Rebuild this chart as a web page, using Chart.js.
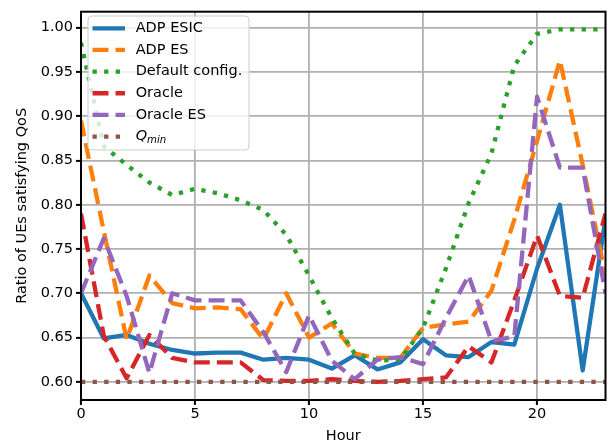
<!DOCTYPE html>
<html><head><meta charset="utf-8">
<script src="https://cdn.jsdelivr.net/npm/chart.js@4"></script>
<style>html,body{margin:0;padding:0;background:#fff;}canvas{display:block}</style>
</head><body>
<canvas id="c" width="611" height="442"></canvas>
<script>
const hours = [0,1,2,3,4,5,6,7,8,9,10,11,12,13,14,15,16,17,18,19,20,21,22,23];
const adpEsic   = [0.700,0.649,0.653,0.643,0.636,0.632,0.633,0.633,0.625,0.627,0.625,0.615,0.630,0.614,0.622,0.648,0.630,0.628,0.645,0.642,0.728,0.800,0.613,0.785];
const adpEs     = [0.895,0.770,0.648,0.720,0.689,0.683,0.684,0.682,0.648,0.700,0.650,0.666,0.632,0.627,0.627,0.661,0.665,0.668,0.703,0.783,0.872,0.963,0.845,0.720];
const defaultCfg= [0.983,0.866,0.845,0.825,0.811,0.818,0.813,0.805,0.794,0.766,0.720,0.672,0.632,0.624,0.625,0.661,0.728,0.802,0.858,0.957,0.993,0.998,0.998,0.998];
const oracle    = [0.790,0.652,0.604,0.653,0.627,0.622,0.622,0.622,0.602,0.601,0.601,0.603,0.601,0.600,0.601,0.603,0.605,0.640,0.622,0.692,0.765,0.697,0.695,0.790];
const oracleEs  = [0.700,0.762,0.697,0.610,0.700,0.692,0.692,0.692,0.656,0.611,0.675,0.624,0.603,0.625,0.628,0.620,0.672,0.720,0.646,0.651,0.922,0.842,0.842,0.700];
const qMin      = [0.6,0.6,0.6,0.6,0.6,0.6,0.6,0.6,0.6,0.6,0.6,0.6,0.6,0.6,0.6,0.6,0.6,0.6,0.6,0.6,0.6,0.6,0.6,0.6];
const seriesLabels = ['ADP ESIC','ADP ES','Default config.','Oracle','Oracle ES','Q_min'];
const xTicks = [0,5,10,15,20];
const yTicks = [0.60,0.65,0.70,0.75,0.80,0.85,0.90,0.95,1.00];

const FONT = 'DejaVu Sans';
const FS = 14.5;
const LW = 4.3;
const DASH = [16,7];
const DOT = [4.3,7.3];

function mk(label, data, color, dash, order){
  return {
    label: label,
    data: hours.map((h,i)=>({x:h, y:data[i]})),
    borderColor: color, backgroundColor: color,
    borderWidth: LW, borderDash: dash, borderCapStyle: 'butt', borderJoinStyle: 'round',
    pointRadius: 0, pointHoverRadius: 0, tension: 0, fill: false, clip: 0, order: order
  };
}

const datasets = [
  mk(seriesLabels[0], adpEsic, '#1f77b4', [], 5),
  mk(seriesLabels[1], adpEs, '#ff7f0e', DASH, 4),
  mk(seriesLabels[2], defaultCfg, '#2ca02c', DOT, 3),
  mk(seriesLabels[3], oracle, '#d62728', DASH, 2),
  mk(seriesLabels[4], oracleEs, '#9467bd', DASH, 1),
  mk(seriesLabels[5], qMin, '#8c564b', DOT, 0)
];

const framePlugin = {
  id: 'frame',
  afterDatasetsDraw(chart){
    const ctx = chart.ctx, a = chart.chartArea;
    ctx.save();
    ctx.setLineDash([]);
    ctx.strokeStyle = '#000';
    ctx.lineWidth = 2;
    ctx.strokeRect(a.left, a.top, a.right - a.left, a.bottom - a.top);
    ctx.restore();
  },
  afterDraw(chart){
    const ctx = chart.ctx;
    const bx = 88, by = 16, bw = 161, bh = 134, r = 4;
    ctx.save();
    ctx.beginPath();
    ctx.moveTo(bx + r, by);
    ctx.arcTo(bx + bw, by, bx + bw, by + bh, r);
    ctx.arcTo(bx + bw, by + bh, bx, by + bh, r);
    ctx.arcTo(bx, by + bh, bx, by, r);
    ctx.arcTo(bx, by, bx + bw, by, r);
    ctx.closePath();
    ctx.fillStyle = 'rgba(255,255,255,0.8)';
    ctx.fill();
    ctx.strokeStyle = '#cccccc';
    ctx.lineWidth = 1;
    ctx.stroke();
    chart.data.datasets.forEach((ds, i) => {
      const y = 28.3 + i * 21.65;
      ctx.beginPath();
      ctx.setLineDash(ds.borderDash || []);
      ctx.lineDashOffset = 0;
      ctx.lineWidth = ds.borderWidth;
      ctx.strokeStyle = ds.borderColor;
      ctx.lineCap = 'butt';
      ctx.moveTo(92.5, y);
      ctx.lineTo(125, y);
      ctx.stroke();
      ctx.setLineDash([]);
      ctx.fillStyle = '#000';
      ctx.textAlign = 'left';
      const lab = ds.label;
      if (lab.indexOf('_') >= 0) {
        const parts = lab.split('_');
        ctx.font = 'italic ' + FS + 'px "' + FONT + '"';
        ctx.textBaseline = 'middle';
        ctx.fillText(parts[0], 135.7, y);
        const w = ctx.measureText(parts[0]).width;
        ctx.font = 'italic 10.2px "' + FONT + '"';
        ctx.textBaseline = 'alphabetic';
        ctx.fillText(parts[1], 135.7 + w, y + 6.5);
      } else {
        ctx.font = FS + 'px "' + FONT + '"';
        ctx.textBaseline = 'middle';
        ctx.fillText(lab, 135.7, y);
      }
    });
    ctx.restore();
  }
};

new Chart(document.getElementById('c'), {
  type: 'line',
  data: { datasets: datasets },
  options: {
    responsive: false, animation: false, devicePixelRatio: 1,
    layout: { padding: { left: 0, right: 5.5, top: 9, bottom: 0 } },
    plugins: { legend: { display: false }, tooltip: { enabled: false } },
    scales: {
      x: {
        type: 'linear', min: 0, max: 23,
        afterBuildTicks: s => { s.ticks = xTicks.map(v => ({ value: v })); },
        afterFit: s => { s.height = 42; },
        ticks: { font: { family: FONT, size: FS }, color: '#000', padding: 1, maxRotation: 0, autoSkip: false, callback: v => String(v) },
        grid: { color: '#b0b0b0', lineWidth: 1.8, tickColor: '#000', tickLength: 5, tickWidth: 2 },
        border: { display: false },
        title: { display: true, text: 'Hour', font: { family: FONT, size: FS }, color: '#000', padding: { top: -3, bottom: -3 } }
      },
      y: {
        type: 'linear', min: 0.5795, max: 1.018,
        afterBuildTicks: s => { s.ticks = yTicks.map(v => ({ value: v })); },
        afterFit: s => { s.width = 81; },
        ticks: { font: { family: FONT, size: FS }, color: '#000', padding: 3, autoSkip: false, callback: v => Number(v).toFixed(2) },
        grid: { color: '#b0b0b0', lineWidth: 1.8, tickColor: '#000', tickLength: 5, tickWidth: 2 },
        border: { display: false },
        title: { display: true, text: 'Ratio of UEs satisfying QoS', font: { family: FONT, size: FS }, color: '#000', padding: { top: 14, bottom: 0 } }
      }
    }
  },
  plugins: [framePlugin]
});
</script>
</body></html>
